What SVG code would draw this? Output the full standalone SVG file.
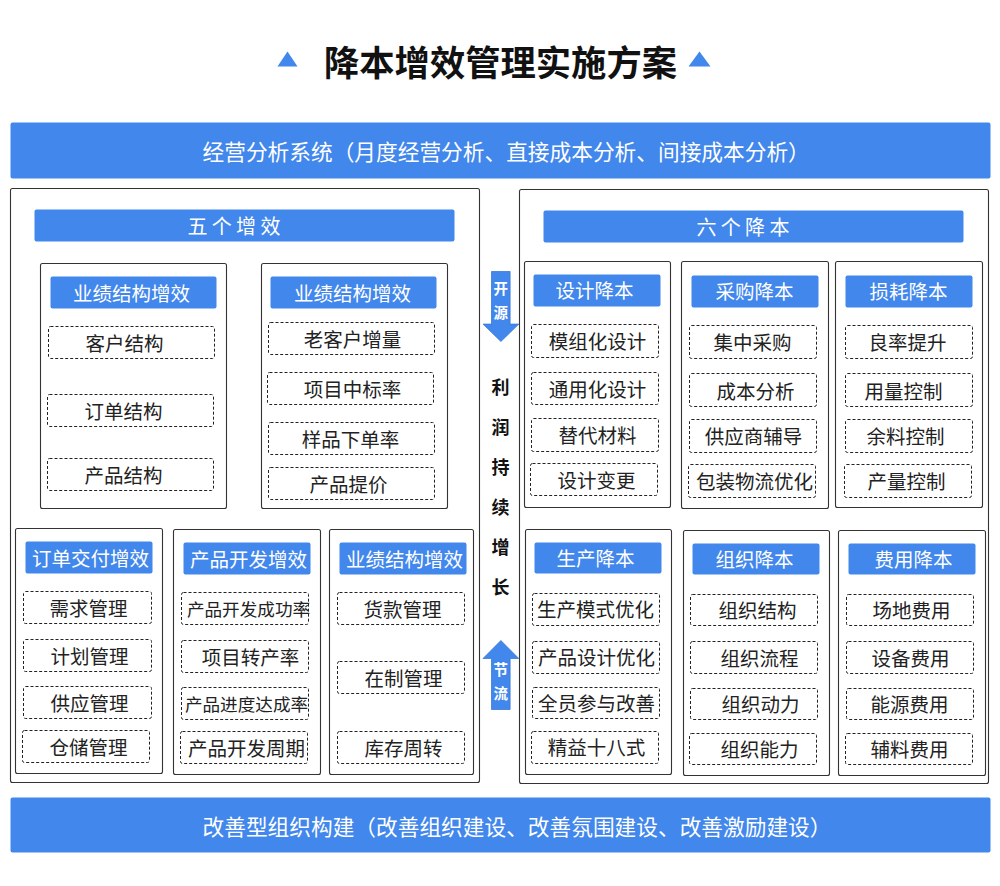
<svg xmlns="http://www.w3.org/2000/svg" width="1000" height="886" viewBox="0 0 1000 886">
<defs>
<style>
text{font-family:"Noto Sans CJK SC","Noto Sans",sans-serif;dominant-baseline:central;text-anchor:middle}
.bar{fill:#4287EB}
.barT{fill:#fff;font-size:21.7px}
.hdT{fill:#fff;font-size:20px;letter-spacing:4.3px;text-anchor:start}
.box{fill:#fff;stroke:#333;stroke-width:1.1}
.tb{fill:#4287EB}
.tT{fill:#fff;font-size:19.5px}
.it{fill:#fff;stroke:#222;stroke-width:1;stroke-dasharray:3 2}
.iT{fill:#222;font-size:19.5px}
.sm{font-size:17.6px}
.vT{fill:#111;font-size:18px;font-weight:bold}
.arT{fill:#fff;font-size:14.5px;font-weight:bold}
.arrow{fill:#4287EB;stroke:#3a78d6;stroke-width:0.8}
</style>
</defs>
<rect width="1000" height="886" fill="#fff"/>
<g transform="translate(0.5,0.5)">
<g id="title">
<polygon points="287,51 297,66 277,66" fill="#4287EB"/>
<polygon points="699,51 710,66 688,66" fill="#4287EB"/>
<text x="500" y="60" style="font-size:35.3px;font-weight:bold;fill:#111">降本增效管理实施方案</text>
</g>

<g id="topbar">
<rect class="bar" x="10" y="122" width="980" height="56" rx="2"/>
<text class="barT" x="202" y="150" style="text-anchor:start">经营分析系统（月度经营分析、直接成本分析、间接成本分析）</text>
</g>

<g id="left-panel">
<rect class="box" x="10" y="188" width="469" height="594" rx="2"/>
<rect class="bar" x="34" y="209" width="420" height="32" rx="2"/>
<text class="hdT" x="187" y="225">五个增效</text>
</g>

<g id="right-panel">
<rect class="box" x="519" y="189" width="469" height="594" rx="2"/>
<rect class="bar" x="543" y="210" width="420" height="32" rx="2"/>
<text class="hdT" x="696" y="226">六个降本</text>
</g>

<g id="L1">
<rect class="box" x="40" y="263" width="186" height="245" rx="2"/>
<rect class="tb" x="50" y="276" width="166" height="32" rx="2"/>
<text class="tT" x="131" y="292">业绩结构增效</text>
<rect class="it" x="48" y="326" width="166" height="32" rx="2"/>
<text class="iT" x="124" y="342">客户结构</text>
<rect class="it" x="47" y="394" width="166" height="32" rx="2"/>
<text class="iT" x="123" y="410">订单结构</text>
<rect class="it" x="47" y="458" width="166" height="32" rx="2"/>
<text class="iT" x="123" y="474">产品结构</text>
</g>

<g id="L2">
<rect class="box" x="261" y="263" width="186" height="245" rx="2"/>
<rect class="tb" x="270" y="276" width="166" height="32" rx="2"/>
<text class="tT" x="352" y="292">业绩结构增效</text>
<rect class="it" x="268" y="322" width="166" height="32" rx="2"/>
<text class="iT" x="352" y="338">老客户增量</text>
<rect class="it" x="267" y="372" width="166" height="32" rx="2"/>
<text class="iT" x="352" y="388">项目中标率</text>
<rect class="it" x="268" y="422" width="166" height="32" rx="2"/>
<text class="iT" x="350" y="438">样品下单率</text>
<rect class="it" x="268" y="467" width="166" height="32" rx="2"/>
<text class="iT" x="348" y="483">产品提价</text>
</g>

<g id="L3">
<rect class="box" x="15" y="528" width="147" height="245" rx="2"/>
<rect class="tb" x="25" y="541" width="127" height="32" rx="2"/>
<text class="tT" x="90" y="557">订单交付增效</text>
<rect class="it" x="23" y="591" width="128" height="32" rx="2"/>
<text class="iT" x="88" y="607">需求管理</text>
<rect class="it" x="23" y="639" width="128" height="32" rx="2"/>
<text class="iT" x="89" y="655">计划管理</text>
<rect class="it" x="23" y="686" width="128" height="32" rx="2"/>
<text class="iT" x="89" y="702">供应管理</text>
<rect class="it" x="22" y="730" width="127" height="32" rx="2"/>
<text class="iT" x="88" y="746">仓储管理</text>
</g>

<g id="L4">
<rect class="box" x="173" y="529" width="147" height="245" rx="2"/>
<rect class="tb" x="183" y="542" width="127" height="32" rx="2"/>
<text class="tT" x="248" y="558">产品开发增效</text>
<rect class="it" x="181" y="592" width="127" height="32" rx="2"/>
<text class="iT sm" x="248" y="608">产品开发成功率</text>
<rect class="it" x="181" y="640" width="127" height="32" rx="2"/>
<text class="iT" x="250" y="656">项目转产率</text>
<rect class="it" x="181" y="687" width="127" height="32" rx="2"/>
<text class="iT sm" x="246" y="703">产品进度达成率</text>
<rect class="it" x="180" y="731" width="127" height="32" rx="2"/>
<text class="iT" x="246" y="747">产品开发周期</text>
</g>

<g id="L5">
<rect class="box" x="329" y="529" width="144" height="245" rx="2"/>
<rect class="tb" x="339" y="542" width="127" height="32" rx="2"/>
<text class="tT" x="404" y="558">业绩结构增效</text>
<rect class="it" x="337" y="592" width="127" height="32" rx="2"/>
<text class="iT" x="402" y="608">货款管理</text>
<rect class="it" x="337" y="661" width="127" height="32" rx="2"/>
<text class="iT" x="403" y="677">在制管理</text>
<rect class="it" x="337" y="731" width="127" height="32" rx="2"/>
<text class="iT" x="403" y="747">库存周转</text>
</g>

<g id="R1">
<rect class="box" x="524" y="261" width="146" height="246" rx="2"/>
<rect class="tb" x="533" y="274" width="127" height="32" rx="2"/>
<text class="tT" x="594" y="289">设计降本</text>
<rect class="it" x="531" y="324" width="127" height="33" rx="2"/>
<text class="iT" x="597" y="340">模组化设计</text>
<rect class="it" x="531" y="372" width="127" height="32" rx="2"/>
<text class="iT" x="597" y="388">通用化设计</text>
<rect class="it" x="531" y="418" width="127" height="33" rx="2"/>
<text class="iT" x="597" y="434">替代材料</text>
<rect class="it" x="530" y="463" width="127" height="32" rx="2"/>
<text class="iT" x="596" y="479">设计变更</text>
</g>

<g id="R2">
<rect class="box" x="681" y="261" width="147" height="247" rx="2"/>
<rect class="tb" x="691" y="275" width="127" height="32" rx="2"/>
<text class="tT" x="754" y="290">采购降本</text>
<rect class="it" x="689" y="325" width="127" height="33" rx="2"/>
<text class="iT" x="752" y="341">集中采购</text>
<rect class="it" x="689" y="373" width="127" height="33" rx="2"/>
<text class="iT" x="755" y="390">成本分析</text>
<rect class="it" x="689" y="419" width="127" height="33" rx="2"/>
<text class="iT" x="753" y="435">供应商辅导</text>
<rect class="it" x="688" y="464" width="127" height="33" rx="2"/>
<text class="iT" x="754" y="480">包装物流优化</text>
</g>

<g id="R3">
<rect class="box" x="835" y="261" width="147" height="246" rx="2"/>
<rect class="tb" x="845" y="275" width="127" height="32" rx="2"/>
<text class="tT" x="908" y="290">损耗降本</text>
<rect class="it" x="845" y="325" width="127" height="33" rx="2"/>
<text class="iT" x="907" y="341">良率提升</text>
<rect class="it" x="845" y="373" width="127" height="33" rx="2"/>
<text class="iT" x="903" y="390">用量控制</text>
<rect class="it" x="845" y="419" width="127" height="33" rx="2"/>
<text class="iT" x="905" y="435">余料控制</text>
<rect class="it" x="844" y="464" width="127" height="33" rx="2"/>
<text class="iT" x="906" y="480">产量控制</text>
</g>

<g id="R4">
<rect class="box" x="525" y="529" width="146" height="245" rx="2"/>
<rect class="tb" x="534" y="542" width="127" height="31" rx="2"/>
<text class="tT" x="595" y="557">生产降本</text>
<rect class="it" x="532" y="593" width="127" height="32" rx="2"/>
<text class="iT" x="595" y="608">生产模式优化</text>
<rect class="it" x="532" y="641" width="127" height="32" rx="2"/>
<text class="iT" x="596" y="656">产品设计优化</text>
<rect class="it" x="532" y="687" width="127" height="31" rx="2"/>
<text class="iT" x="596" y="702">全员参与改善</text>
<rect class="it" x="531" y="731" width="127" height="32" rx="2"/>
<text class="iT" x="596" y="746">精益十八式</text>
</g>

<g id="R5">
<rect class="box" x="683" y="530" width="146" height="245" rx="2"/>
<rect class="tb" x="692" y="543" width="127" height="31" rx="2"/>
<text class="tT" x="754" y="558">组织降本</text>
<rect class="it" x="690" y="594" width="127" height="31" rx="2"/>
<text class="iT" x="757" y="609">组织结构</text>
<rect class="it" x="690" y="641" width="127" height="32" rx="2"/>
<text class="iT" x="759" y="657">组织流程</text>
<rect class="it" x="690" y="688" width="127" height="31" rx="2"/>
<text class="iT" x="760" y="703">组织动力</text>
<rect class="it" x="689" y="733" width="127" height="31" rx="2"/>
<text class="iT" x="759" y="748">组织能力</text>
</g>

<g id="R6">
<rect class="box" x="838" y="530" width="147" height="245" rx="2"/>
<rect class="tb" x="848" y="543" width="127" height="31" rx="2"/>
<text class="tT" x="913" y="558">费用降本</text>
<rect class="it" x="846" y="594" width="127" height="31" rx="2"/>
<text class="iT" x="911" y="609">场地费用</text>
<rect class="it" x="846" y="641" width="127" height="32" rx="2"/>
<text class="iT" x="910" y="657">设备费用</text>
<rect class="it" x="846" y="688" width="127" height="31" rx="2"/>
<text class="iT" x="909" y="703">能源费用</text>
<rect class="it" x="845" y="733" width="127" height="31" rx="2"/>
<text class="iT" x="909" y="748">辅料费用</text>
</g>

<g id="connectors">
<path class="arrow" d="M491,271 H509.6 V323.6 H518.3 L500.4,341 L482.5,323.6 H491 Z"/>
<text class="arT" x="500.3" y="287">开</text>
<text class="arT" x="500.3" y="311">源</text>
<path class="arrow" d="M500.4,640 L518.3,658 H509.6 V709 H491 V658 H482.5 Z"/>
<text class="arT" x="500.3" y="668">节</text>
<text class="arT" x="500.3" y="692">流</text>
</g>

<g id="middle-text">
<text class="vT" x="500" y="385">利</text>
<text class="vT" x="500" y="425">润</text>
<text class="vT" x="500" y="465">持</text>
<text class="vT" x="500" y="505">续</text>
<text class="vT" x="500" y="545">增</text>
<text class="vT" x="500" y="585">长</text>
</g>

<g id="bottombar">
<rect class="bar" x="10" y="797" width="980" height="55" rx="2"/>
<text class="barT" x="202" y="825" style="text-anchor:start">改善型组织构建（改善组织建设、改善氛围建设、改善激励建设）</text>
</g>
</g>
</svg>
